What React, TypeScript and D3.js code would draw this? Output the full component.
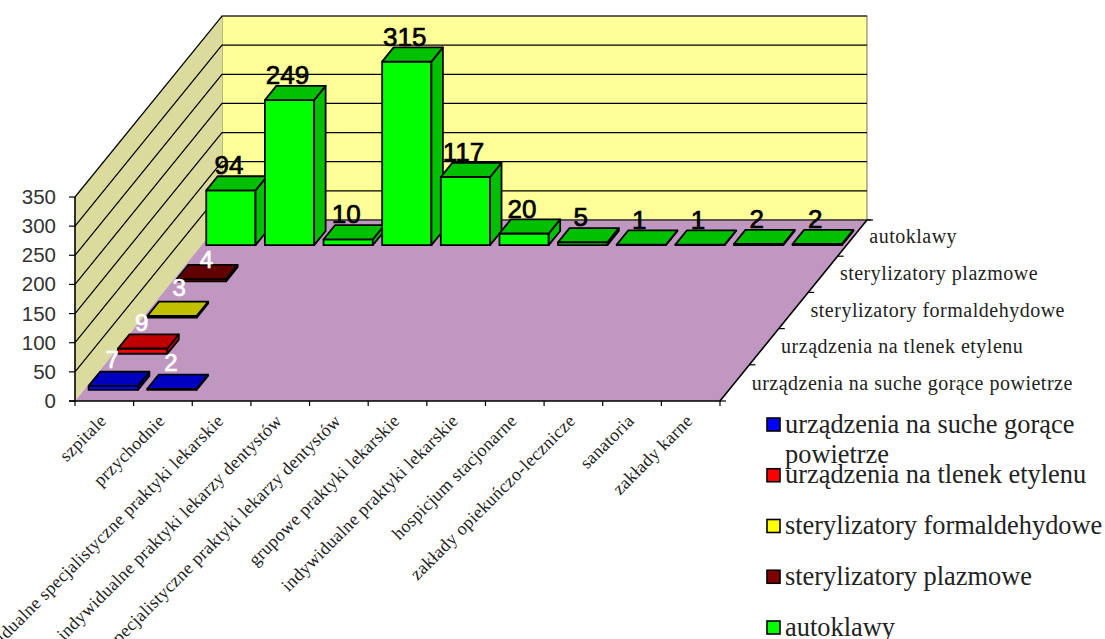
import React from "react";
import * as d3 from "d3";

const categories = ["szpitale","przychodnie","indywidualne specjalistyczne praktyki lekarskie","indywidualne praktyki lekarzy dentystów","indywidualne specjalistyczne praktyki lekarzy dentystów","grupowe praktyki lekarskie","indywidualne praktyki lekarskie","hospicjum stacjonarne","zakłady opiekuńczo-lecznicze","sanatoria","zakłady karne"];
const seriesNames = ["urządzenia na suche gorące powietrze","urządzenia na tlenek etylenu","sterylizatory formaldehydowe","sterylizatory plazmowe","autoklawy"];
const legendLines = [["urządzenia na suche gorące","powietrze"],["urządzenia na tlenek etylenu"],["sterylizatory formaldehydowe"],["sterylizatory plazmowe"],["autoklawy"]];
const suche = [7,2,null,null,null,null,null,null,null,null,null];
const tlenek = [9,null,null,null,null,null,null,null,null,null,null];
const formaldehyd = [3,null,null,null,null,null,null,null,null,null,null];
const plazma = [4,null,null,null,null,null,null,null,null,null,null];
const autoklawy = [94,249,10,315,117,20,5,1,1,2,2];
const seriesValues = [suche,tlenek,formaldehyd,plazma,autoklawy];
const faceColors = ["#0000ff","#ff0000","#ffff00","#800000","#00ff00"];
const darkColors = ["#0000c0","#c00000","#c0c000","#600000","#00c000"];
const labelColors = ["#ffffff","#ffffff","#ffffff","#ffffff","#000000"];
const yTicks = [0,50,100,150,200,250,300,350];

const ox = 75, oy = 401;
const xS = d3.scaleBand<string>().domain(categories).range([0,645]).paddingInner(0.16).paddingOuter(0.08);
const xStep = d3.scaleLinear().domain([0,categories.length]).range([0,645]);
const dS = d3.scaleBand<string>().domain(seriesNames).range([0,1]).paddingInner(0.61).paddingOuter(0.305);
const dX = d3.scaleLinear().domain([0,1]).range([0,147]);
const dY = d3.scaleLinear().domain([0,1]).range([0,-181]);
const yS = d3.scaleLinear().domain([0,350]).range([0,-204]);
const P = (x:number,d:number,v:number):[number,number] => [ox+x+dX(d), oy+dY(d)+yS(v)];
const line = d3.line();
const poly = (pts:[number,number][]) => line(pts)+"Z";
const SANS = "'Liberation Sans', Arial, sans-serif";
const SERIF = "'Liberation Serif', 'Times New Roman', serif";
const W = 645;
const labelDx = [-1,-1,7,5,-2];
const labelDy = [-18,-18,-20,-11,-16];
const depthLabelY = d3.scaleLinear().domain([0,4]).range([390,243]);

export default function App(){
  const bars:any[] = [];
  const labels:any[] = [];
  for(let s=seriesNames.length-1;s>=0;s--){
    const d0 = dS(seriesNames[s])!, d1 = d0+dS.bandwidth();
    seriesValues[s].forEach((v,i)=>{
      if(v==null) return;
      const x0 = xS(categories[i])!, x1 = x0+xS.bandwidth();
      bars.push(<g key={s+"-"+i} stroke="#000" strokeWidth={1.8} strokeLinejoin="round">
        <path d={poly([P(x0,d0,0),P(x1,d0,0),P(x1,d0,v),P(x0,d0,v)])} fill={faceColors[s]}/>
        <path d={poly([P(x1,d0,0),P(x1,d1,0),P(x1,d1,v),P(x1,d0,v)])} fill={darkColors[s]}/>
        <path d={poly([P(x0,d0,v),P(x1,d0,v),P(x1,d1,v),P(x0,d1,v)])} fill={darkColors[s]}/>
      </g>);
      const [lx,ly] = P((x0+x1)/2,d0,v);
      labels.push(<text key={"l"+s+"-"+i} x={lx+labelDx[s]} y={ly+labelDy[s]} textAnchor="middle" fontFamily={SANS} fontSize={s===4?26:24} fill={labelColors[s]} stroke={labelColors[s]} strokeWidth={0.7}>{v}</text>);
    });
  }
  const n = categories.length;
  return <svg width={1105} height={639} style={{position:"absolute",left:0,top:0,background:"#fff"}}>
    <path d={poly([P(0,1,0),P(W,1,0),P(W,1,350),P(0,1,350)])} fill="#ffff99" stroke="#8a8a70" strokeWidth={1.2}/>
    <path d={poly([P(0,0,0),P(0,1,0),P(0,1,350),P(0,0,350)])} fill="#dbdb9e"/>
    <path d={poly([P(0,0,0),P(W,0,0),P(W,1,0),P(0,1,0)])} fill="#bf97c0"/>
    {yTicks.slice(1).map(t=><g key={t}>
      <path d={line([P(0,0,t),P(0,1,t),P(W,1,t)])!} fill="none" stroke="#000" strokeWidth={1.2}/>
    </g>)}
    <path d={line([P(0,1,0),P(W+4,1,0)])!} stroke="#333" strokeWidth={1.4} fill="none"/>
    <path d={line([P(0,0,0),P(0,0,350)])!} stroke="#000" strokeWidth={1.6} fill="none"/>
    <path d={line([P(-6,0,0),P(W,0,0),P(W,1,0)])!} stroke="#000" strokeWidth={1.6} fill="none"/>
    {yTicks.map(t=>{const [x,y]=P(0,0,t);return <g key={t}>
      <line x1={x-6} x2={x} y1={y} y2={y} stroke="#000" strokeWidth={1.2}/>
      <text x={x-19} y={y+7} textAnchor="end" fontFamily={SANS} fontSize={20.5} fill="#333">{t}</text>
    </g>})}
    {d3.range(n+1).map(i=>{const [x,y]=P(xStep(i),0,0);return <line key={i} x1={x} x2={x} y1={y} y2={y+5} stroke="#000" strokeWidth={1.2}/>})}
    {categories.map((c,i)=>{const [x,y]=P(xStep(i+0.5),0,0);return <text key={c} transform={`translate(${x+3},${y+21}) rotate(-45)`} textAnchor="end" fontFamily={SERIF} fontSize={18} letterSpacing={0.3} fill="#222">{c}</text>})}
    {d3.range(6).map(i=>{const [x,y]=P(W,i/5,0);return <line key={i} x1={x} x2={x+6} y1={y} y2={y} stroke="#000" strokeWidth={1.2}/>})}
    {seriesNames.map((s,i)=>{const [x]=P(W,dS(s)!+dS.bandwidth()/2,0);return <text key={s} x={x+17} y={depthLabelY(i)} fontFamily={SERIF} fontSize={20} letterSpacing={0.5} fill="#222">{s}</text>})}
    {bars}
    {labels}
    {legendLines.map((ls,i)=>{const y=d3.scaleLinear().domain([0,4]).range([425,628])(i);return <g key={i}>
      <rect x={767} y={y-7} width={13} height={13} fill={faceColors[i]} stroke="#000" strokeWidth={1.6}/>
      {ls.map((t,j)=><text key={j} x={785} y={y+7.5+j*30} fontFamily={SERIF} fontSize={26.4} fill="#222">{t}</text>)}
    </g>})}
  </svg>;
}
